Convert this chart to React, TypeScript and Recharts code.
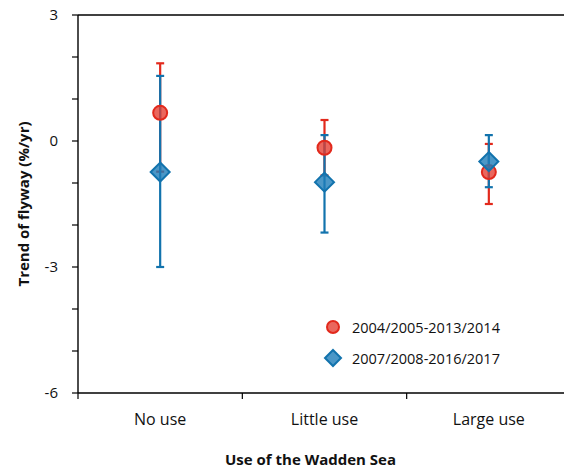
import React from 'react';
import { ComposedChart, Scatter, XAxis, YAxis, ErrorBar, ReferenceLine, Legend } from 'recharts';

const categories = ['No use', 'Little use', 'Large use'];
const xPos = [0.5, 1.5, 2.5];
const xBounds = [0, 1, 2];

// 2004/2005-2013/2014
const trendA = [0.67, -0.16, -0.74];
const errALow = [1.4, 0.66, 0.76];
const errAHigh = [1.18, 0.66, 0.67];

// 2007/2008-2016/2017
const trendB = [-0.74, -0.98, -0.49];
const errBLow = [2.26, 1.2, 0.61];
const errBHigh = [2.29, 1.12, 0.63];

const yTicks = [-6, -5, -4, -3, -2, -1, 0, 1, 2, 3];

const RED = '#e2291c';
const BLUE = '#1273ad';
const FONT = '"Open Sans", sans-serif';

const dataA = xPos.map((x, i) => ({ x, y: trendA[i], err: [errALow[i], errAHigh[i]], cat: categories[i] }));
const dataB = xPos.map((x, i) => ({ x, y: trendB[i], err: [errBLow[i], errBHigh[i]], cat: categories[i] }));

const RedDot = (props: any) => (
  <circle cx={props.cx} cy={props.cy} r={7} fill="rgba(228,60,48,0.78)" stroke={RED} strokeWidth={2} />
);

const BlueDiamond = (props: any) => {
  const { cx, cy } = props;
  const s = 9.5;
  return (
    <polygon
      points={`${cx},${cy - s} ${cx + s},${cy} ${cx},${cy + s} ${cx - s},${cy}`}
      fill="rgba(30,125,185,0.8)"
      stroke={BLUE}
      strokeWidth={2}
    />
  );
};

// boundary ticks get a tick mark, half-way ticks get the category name
const XTick = (props: any) => {
  const { x, y, payload } = props;
  const v = payload.value;
  if (Number.isInteger(v)) {
    return <line x1={x} y1={y} x2={x} y2={y + 6} stroke="#000" strokeWidth={1.2} />;
  }
  return (
    <text x={x} y={y + 32} textAnchor="middle" fontSize={16} fill="#111" fontFamily={FONT}>
      {categories[Math.floor(v)]}
    </text>
  );
};

const legendItems = [
  { name: '2004/2005-2013/2014', kind: 'circle' },
  { name: '2007/2008-2016/2017', kind: 'diamond' },
];

const LegendBox = () => (
  <div style={{ fontFamily: FONT, fontSize: 14.5, color: '#111' }}>
    {legendItems.map((it) => (
      <div key={it.name} style={{ display: 'flex', alignItems: 'center', height: 22, marginBottom: 9 }}>
        <svg width={20} height={20} style={{ marginRight: 9 }}>
          {it.kind === 'circle' ? (
            <circle cx={10} cy={10} r={6} fill="rgba(228,60,48,0.78)" stroke={RED} strokeWidth={2} />
          ) : (
            <polygon points="10,2 18,10 10,18 2,10" fill="rgba(30,125,185,0.8)" stroke={BLUE} strokeWidth={2} />
          )}
        </svg>
        <span>{it.name}</span>
      </div>
    ))}
  </div>
);

export default function App() {
  return (
    <div style={{ position: 'absolute', left: 0, top: 0, width: 564, height: 468, overflow: 'hidden', background: '#fff' }}>
      <ComposedChart
        width={580}
        height={468}
        margin={{ top: 15, right: 9, left: 0, bottom: 0 }}
        style={{ fontFamily: FONT }}
      >
        <XAxis
          xAxisId="n"
          dataKey="x"
          type="number"
          domain={[0, 3]}
          ticks={[...xBounds, ...xPos].sort((a, b) => a - b)}
          interval={0}
          allowDataOverflow
          tick={<XTick />}
          tickLine={false}
          tickSize={0}
          tickMargin={0}
          height={75}
          axisLine={{ stroke: '#000', strokeWidth: 1.4 }}
          label={{ value: 'Use of the Wadden Sea', position: 'insideBottom', offset: 3, dx: -14, fontSize: 15, fontWeight: 700, fill: '#111' }}
        />
        <YAxis
          dataKey="y"
          type="number"
          domain={[-6, 3]}
          ticks={yTicks}
          allowDataOverflow
          interval={0}
          width={78}
          tickSize={6}
          tickMargin={14}
          tickFormatter={(v: number) => (v % 3 === 0 ? String(v) : '')}
          tick={{ fontSize: 15, fill: '#111' }}
          axisLine={{ stroke: '#000', strokeWidth: 1.4 }}
          tickLine={{ stroke: '#000', strokeWidth: 1.2 }}
          label={{ value: 'Trend of flyway (%/yr)', angle: -90, position: 'center', dx: -15, fontSize: 15, fontWeight: 700, fill: '#111' }}
        />
        <ReferenceLine xAxisId="n" y={3} stroke="#000" strokeWidth={1.6} />
        <Scatter xAxisId="n" name="2004/2005-2013/2014" data={dataA} shape={RedDot} isAnimationActive={false}>
          <ErrorBar dataKey="err" direction="y" width={4} stroke={RED} strokeWidth={2.2} />
        </Scatter>
        <Scatter xAxisId="n" name="2007/2008-2016/2017" data={dataB} shape={BlueDiamond} isAnimationActive={false}>
          <ErrorBar dataKey="err" direction="y" width={4} stroke={BLUE} strokeWidth={2.2} />
        </Scatter>
        <Legend
          layout="vertical"
          align="center"
          verticalAlign="middle"
          content={() => <LegendBox />}
          wrapperStyle={{ left: 323, top: 316, width: 'auto' }}
        />
      </ComposedChart>
    </div>
  );
}
